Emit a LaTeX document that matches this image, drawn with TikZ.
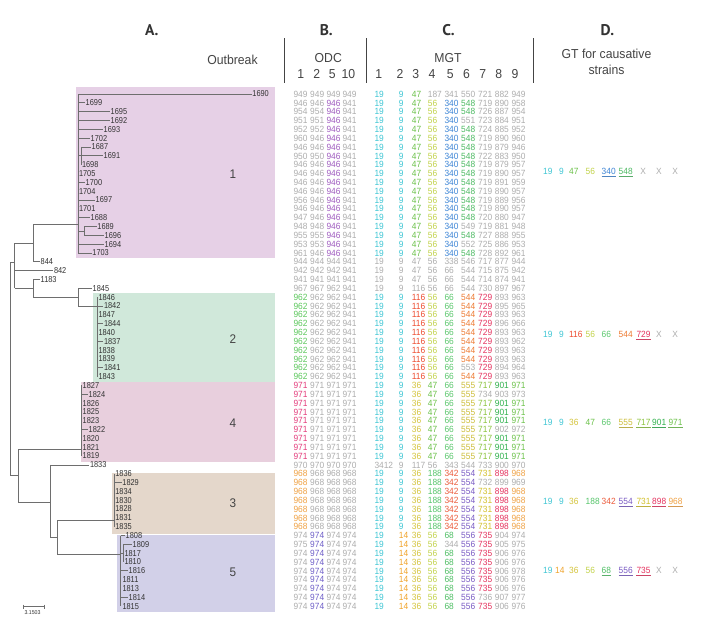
\documentclass[tikz,border=0pt]{standalone}
\usepackage{fontspec}
\setmainfont{Liberation Sans}
\newfontfamily\datfont[FakeStretch=0.93]{Liberation Sans}
\newfontfamily\labfont[FakeStretch=0.86]{Liberation Sans}
\newfontfamily\hdrfont[FakeStretch=0.94]{Liberation Sans}
\newfontfamily\letfont{PT Sans}
\definecolor{gy}{HTML}{ADADAD}
\definecolor{cy}{HTML}{3EC6D4}
\definecolor{pu}{HTML}{A05CC0}
\definecolor{lg}{HTML}{6CC24A}
\definecolor{yg}{HTML}{C2D34A}
\definecolor{bl}{HTML}{3D85D6}
\definecolor{g5}{HTML}{4DBA63}
\definecolor{og}{HTML}{5CC85C}
\definecolor{rd}{HTML}{EE4B2E}
\definecolor{gr}{HTML}{5CC86E}
\definecolor{or}{HTML}{EE7B33}
\definecolor{pk}{HTML}{E5325E}
\definecolor{mg}{HTML}{E43C7C}
\definecolor{ye}{HTML}{D4C43A}
\definecolor{yl}{HTML}{CDBE3A}
\definecolor{gl}{HTML}{8BC43E}
\definecolor{dg}{HTML}{2FB14C}
\definecolor{or2}{HTML}{F0A244}
\definecolor{g188}{HTML}{55C56A}
\definecolor{rd2}{HTML}{EC5B3B}
\definecolor{pu2}{HTML}{7A5BC4}
\definecolor{y731}{HTML}{D3C02A}
\definecolor{pv}{HTML}{6F5FC8}
\definecolor{or14}{HTML}{F0A32A}
\definecolor{g68}{HTML}{4FBF65}
\definecolor{treec}{HTML}{6E6E6E}
\definecolor{labc}{HTML}{333333}
\definecolor{hdrc}{HTML}{444444}
\definecolor{letc}{HTML}{333333}
\definecolor{bxa}{HTML}{E6D0E6}
\definecolor{bxb}{HTML}{D0E8DA}
\definecolor{bxd}{HTML}{E8CFDD}
\definecolor{bxc}{HTML}{E4D7CB}
\definecolor{bxe}{HTML}{D2D0E8}
\newcommand\RY[1]{94+(#1-1)*8.83}
\newcommand\drow[2]{%
  \edef\rowlist{#2}%
  \foreach \clr/\txt [count=\k] in \rowlist {%
    \pgfmathsetmacro\xx{{293.3,310,326.3,342.3,374.3,398.7,411.7,427.7,444.3,461,478,494.7,511.3}[\k-1]}%
    \pgfmathsetmacro\yy{\RY{#1}+3.2}%
    \node[dat,text=\clr] (d#1-\k) at (\xx,\yy) {\txt};
  }}
\newcommand\dDrow[4]{% name, y, x-list, entries
  \edef\rowlist{#4}%
  \foreach \clr/\txt/\und [count=\k] in \rowlist {%
    \pgfmathsetmacro\xx{{#3}[\k-1]}%
    \pgfmathsetmacro\yy{#2+3.2}%
    \ifnum\und=2\relax
      \pgfmathsetmacro\xc{\xx+6.8}%
      \node[dat,anchor=base,text=\clr] (#1-\k) at (\xc,\yy) {\txt};
    \else
      \node[dat,text=\clr] (#1-\k) at (\xx,\yy) {\txt};
      \ifnum\und=1\relax
        \draw[draw=\clr!75!gray,line width=0.55pt] ([yshift=-1.6pt]#1-\k.base west) -- ([yshift=-1.6pt]#1-\k.base east);
      \fi
    \fi
  }}
\newcommand\leaf[5]{%
  \pgfmathsetmacro\yy{\RY{#2}}%
  \coordinate (s#1) at (#3,\yy);
  \coordinate (e#1) at (#4,\yy);
  \draw[tree] (s#1) -- (e#1);
  \node[lab] (l#1) at (e#1) {#5};}
\newcommand\zleaf[4]{%
  \pgfmathsetmacro\yy{\RY{#2}}%
  \pgfmathsetmacro\xc{#3+0.3}%
  \node[lab] (l#1) at (\xc,\yy) {#4};}
\newcommand\vseg[4]{% name, x, row1, row2
  \pgfmathsetmacro\ya{\RY{#3}}\pgfmathsetmacro\yb{\RY{#4}}%
  \coordinate (#1t) at (#2,\ya); \coordinate (#1b) at (#2,\yb);
  \draw[tree] (#1t) -- (#1b);}
\newcommand\hseg[4]{% name, x1, x2, row
  \pgfmathsetmacro\ya{\RY{#4}}%
  \coordinate (#1l) at (#2,\ya); \coordinate (#1r) at (#3,\ya);
  \draw[tree] (#1l) -- (#1r);}
\def\DX{543,559,569,585.5,601.5,618.5,636.3,652,668.3}
\def\DXe{543,555,569,585.5,601.5,618.5,636.3,652,668.3}
\begin{document}
\begin{tikzpicture}[x=1pt,y=-1pt,
  tree/.style={draw=treec,line width=0.7pt},
  dat/.style={anchor=base west,inner sep=0pt,font={\datfont\fontsize{9}{10}\selectfont}},
  lab/.style={anchor=west,inner sep=0.5pt,text=labc,font={\labfont\fontsize{8.6}{9}\selectfont}},
  hdr/.style={inner sep=0pt,text=hdrc,font={\hdrfont\fontsize{13}{14}\selectfont}},
  lettr/.style={inner sep=0pt,text=letc,font={\letfont\bfseries\fontsize{15.5}{16}\selectfont}},
  onum/.style={inner sep=0pt,text=hdrc,font={\hdrfont\fontsize{12.5}{13}\selectfont}},
  divl/.style={draw=hdrc,line width=1pt}]
\fill[white] (0,0) rectangle (725,627);
\useasboundingbox (0,0) rectangle (725,627);
% outbreak boxes
\fill[bxa] (76,86.5) rectangle (275,257.5);
\fill[bxb] (93,293.3) rectangle (275,381.6);
\fill[bxd] (81,382.4) rectangle (275,462);
\fill[bxc] (112,472.5) rectangle (275,534);
\fill[bxe] (117,534.6) rectangle (275,611.5);
% headers
\node[lettr] (hA) at (151.7,30.5) {A.};
\node[lettr] (hB) at (326.3,30.5) {B.};
\node[lettr] (hC) at (448.5,30.5) {C.};
\node[lettr] (hD) at (607.4,30.5) {D.};
\node[hdr] (hOut) at (232.5,60.3) {Outbreak};
\node[hdr] (hODC) at (328.3,57.7) {ODC};
\node[hdr] (hMGT) at (448,57.7) {MGT};
\node[hdr] (hGT1) at (606.5,54.3) {GT for causative};
\node[hdr] (hGT2) at (606.5,70) {strains};
\foreach \nm/\xp/\tx in {o1/300.7/1,o2/316.7/2,o5/332.3/5,o10/348.3/10}{
  \node[hdr] (h\nm) at (\xp,74.2) {\tx};}
\foreach \nm/\xp [count=\i] in {m1/378.8,m2/400,m3/415.7,m4/431.9,m5/450.3,m6/466.5,m7/482.7,m8/498.8,m9/515}{
  \node[hdr] (h\nm) at (\xp,74.2) {\i};}
\coordinate (v1t) at (284.5,38.3); \coordinate (v1b) at (284.5,83.3);
\coordinate (v2t) at (366,38.3); \coordinate (v2b) at (366,83.3);
\coordinate (v3t) at (533.5,38.3); \coordinate (v3b) at (533.5,83.3);
\draw[divl] (v1t) -- (v1b);
\draw[divl] (v2t) -- (v2b);
\draw[divl] (v3t) -- (v3b);
% outbreak numbers
\node[onum] (n1) at (233,174) {1};
\node[onum] (n2) at (233,339) {2};
\node[onum] (n4) at (233,423) {4};
\node[onum] (n3) at (233,503) {3};
\node[onum] (n5) at (233,572) {5};
% ---------------- tree ----------------
\vseg{c1}{78}{1}{19}
\vseg{sa}{81}{7}{9}
\hseg{saj}{78}{81}{8}
\vseg{sb}{84}{16}{17}
\hseg{sbj}{78}{84}{16.5}
\leaf{1690}{1}{78}{251.7}{1690}
\leaf{1699}{2}{78}{85}{1699}
\leaf{1695}{3}{78}{110}{1695}
\leaf{1692}{4}{78}{110}{1692}
\leaf{1693}{5}{78}{103}{1693}
\leaf{1702}{6}{78}{90}{1702}
\leaf{1687}{7}{81}{91}{1687}
\leaf{1691}{8}{81}{103}{1691}
\zleaf{1698}{9}{81}{1698}
\zleaf{1705}{10}{78}{1705}
\leaf{1700}{11}{78}{85}{1700}
\zleaf{1704}{12}{78}{1704}
\leaf{1697}{13}{78}{95}{1697}
\zleaf{1701}{14}{78}{1701}
\leaf{1688}{15}{78}{90}{1688}
\leaf{1689}{16}{84}{96.7}{1689}
\leaf{1696}{17}{84}{104}{1696}
\leaf{1694}{18}{78}{104}{1694}
\leaf{1703}{19}{78}{91.7}{1703}
% upper part
\coordinate (na1) at (33.3,224); \coordinate (na2) at (78,224);
\draw[tree] (na1) -- (na2);
\coordinate (na3) at (33.3,261.77);
\draw[tree] (na1) -- (na3);
\leaf{844}{20}{33.3}{40}{844}
\coordinate (nb0) at (14.5,243.3); \coordinate (nb1) at (33.3,243.3);
\draw[tree] (nb0) -- (nb1);
\coordinate (nb2) at (14.5,288.26);
\draw[tree] (nb0) -- (nb2);
\leaf{842}{21}{14.5}{53.3}{842}
\coordinate (nc0) at (33.3,288.26);
\draw[tree] (nb2) -- (nc0);
\coordinate (nc1) at (33.3,279.43); \coordinate (nc2) at (33.3,297.7);
\draw[tree] (nc1) -- (nc2);
\leaf{1183}{22}{33.3}{40}{1183}
\coordinate (nd0) at (78.7,297.7);
\draw[tree] (nc2) -- (nd0);
\coordinate (nd1) at (78.7,288.26); \coordinate (nd2) at (78.7,306.7);
\draw[tree] (nd1) -- (nd2);
\leaf{1845}{23}{78.7}{92}{1845}
\coordinate (c2j) at (97.5,306.7);
\draw[tree] (nd2) -- (c2j);
\vseg{c2}{97.5}{24}{33}
\zleaf{1846}{24}{97.5}{1846}
\leaf{1842}{25}{97.5}{103.3}{1842}
\zleaf{1847}{26}{97.5}{1847}
\leaf{1844}{27}{97.5}{103.3}{1844}
\zleaf{1840}{28}{97.5}{1840}
\leaf{1837}{29}{97.5}{103.3}{1837}
\zleaf{1838}{30}{97.5}{1838}
\zleaf{1839}{31}{97.5}{1839}
\leaf{1841}{32}{97.5}{103.3}{1841}
\zleaf{1843}{33}{97.5}{1843}
% root
\coordinate (r0) at (10,262); \coordinate (r1) at (10,475.3);
\draw[tree] (r0) -- (r1);
\coordinate (rb) at (14.5,262);
\draw[tree] (r0) -- (rb);
\coordinate (ne0) at (18.3,475.3);
\draw[tree] (r1) -- (ne0);
\coordinate (ne1) at (18.3,449.3); \coordinate (ne2) at (18.3,502);
\draw[tree] (ne1) -- (ne2);
\coordinate (c4j) at (81.7,449.3);
\draw[tree] (ne1) -- (c4j);
\vseg{c4}{81.7}{34}{42}
\zleaf{1827}{34}{81.7}{1827}
\leaf{1824}{35}{81.7}{88}{1824}
\zleaf{1826}{36}{81.7}{1826}
\zleaf{1825}{37}{81.7}{1825}
\zleaf{1823}{38}{81.7}{1823}
\leaf{1822}{39}{81.7}{88}{1822}
\zleaf{1820}{40}{81.7}{1820}
\zleaf{1821}{41}{81.7}{1821}
\zleaf{1819}{42}{81.7}{1819}
\coordinate (nf0) at (50,502);
\draw[tree] (ne2) -- (nf0);
\coordinate (nf1) at (50,464.86); \coordinate (nf2) at (50,537.3);
\draw[tree] (nf1) -- (nf2);
\leaf{1833}{43}{50}{89.3}{1833}
\coordinate (ng0) at (57.3,537.3);
\draw[tree] (nf2) -- (ng0);
\coordinate (ng1) at (57.3,520); \coordinate (ng2) at (57.3,554);
\draw[tree] (ng1) -- (ng2);
\coordinate (c3j) at (114.3,520);
\draw[tree] (ng1) -- (c3j);
\vseg{c3}{114.3}{44}{50}
\zleaf{1836}{44}{114.3}{1836}
\leaf{1829}{45}{114.3}{121.7}{1829}
\zleaf{1834}{46}{114.3}{1834}
\zleaf{1830}{47}{114.3}{1830}
\zleaf{1828}{48}{114.3}{1828}
\zleaf{1831}{49}{114.3}{1831}
\zleaf{1835}{50}{114.3}{1835}
\coordinate (c5j) at (120.5,554);
\draw[tree] (ng2) -- (c5j);
\vseg{c5}{120.5}{51}{59}
\vseg{s5}{123.5}{52}{54}
\hseg{s5j}{120.5}{123.5}{53}
\leaf{1808}{51}{120.5}{125}{1808}
\leaf{1809}{52}{123.5}{132}{1809}
\zleaf{1817}{53}{123.5}{1817}
\zleaf{1810}{54}{123.5}{1810}
\leaf{1816}{55}{120.5}{128}{1816}
\zleaf{1811}{56}{121.5}{1811}
\zleaf{1813}{57}{121.5}{1813}
\leaf{1814}{58}{120.5}{128}{1814}
\zleaf{1815}{59}{121.5}{1815}
% scale bar
\coordinate (sb1) at (23.3,606.7); \coordinate (sb2) at (44,606.7);
\draw[treec,line width=0.6pt] (sb1) -- (sb2);
\draw[treec,line width=0.6pt] ([yshift=2pt]sb1) -- ([yshift=-2pt]sb1);
\draw[treec,line width=0.6pt] ([yshift=2pt]sb2) -- ([yshift=-2pt]sb2);
\node[inner sep=0pt,text=labc,font={\datfont\fontsize{5.6}{6}\selectfont}] (sbt) at (32.5,612.3) {3.1503};
% ---------------- data ----------------
\def\Oa{cy/19,cy/9,lg/47,yg/56,bl/340}
\drow{1}{gy/949,gy/949,gy/949,gy/949,cy/19,cy/9,lg/47,gy/187,gy/341,gy/550,gy/721,gy/882,gy/949}
\drow{2}{gy/946,gy/946,pu/946,gy/941,\Oa,g5/548,gy/719,gy/890,gy/958}
\drow{3}{gy/954,gy/954,pu/946,gy/941,\Oa,g5/548,gy/726,gy/887,gy/954}
\drow{4}{gy/951,gy/951,pu/946,gy/941,\Oa,gy/551,gy/723,gy/884,gy/951}
\drow{5}{gy/952,gy/952,pu/946,gy/941,\Oa,g5/548,gy/724,gy/885,gy/952}
\drow{6}{gy/960,gy/946,pu/946,gy/941,\Oa,g5/548,gy/719,gy/890,gy/960}
\drow{7}{gy/946,gy/946,pu/946,gy/941,\Oa,g5/548,gy/719,gy/879,gy/946}
\drow{8}{gy/950,gy/950,pu/946,gy/941,\Oa,g5/548,gy/722,gy/883,gy/950}
\drow{9}{gy/946,gy/946,pu/946,gy/941,\Oa,g5/548,gy/719,gy/879,gy/957}
\drow{10}{gy/946,gy/946,pu/946,gy/941,\Oa,g5/548,gy/719,gy/890,gy/957}
\drow{11}{gy/946,gy/946,pu/946,gy/941,\Oa,g5/548,gy/719,gy/891,gy/959}
\drow{12}{gy/946,gy/946,pu/946,gy/941,\Oa,g5/548,gy/719,gy/890,gy/957}
\drow{13}{gy/956,gy/946,pu/946,gy/941,\Oa,g5/548,gy/719,gy/889,gy/956}
\drow{14}{gy/946,gy/946,pu/946,gy/941,\Oa,g5/548,gy/719,gy/890,gy/957}
\drow{15}{gy/947,gy/946,pu/946,gy/941,\Oa,g5/548,gy/720,gy/880,gy/947}
\drow{16}{gy/948,gy/948,pu/946,gy/941,\Oa,gy/549,gy/719,gy/881,gy/948}
\drow{17}{gy/955,gy/955,pu/946,gy/941,\Oa,g5/548,gy/727,gy/888,gy/955}
\drow{18}{gy/953,gy/953,pu/946,gy/941,\Oa,gy/552,gy/725,gy/886,gy/953}
\drow{19}{gy/961,gy/946,pu/946,gy/941,\Oa,g5/548,gy/728,gy/892,gy/961}
\drow{20}{gy/944,gy/944,gy/944,gy/941,gy/19,gy/9,gy/47,gy/56,gy/338,gy/546,gy/717,gy/877,gy/944}
\drow{21}{gy/942,gy/942,gy/942,gy/941,gy/19,gy/9,gy/47,gy/56,gy/66,gy/544,gy/715,gy/875,gy/942}
\drow{22}{gy/941,gy/941,gy/941,gy/941,gy/19,gy/9,gy/47,gy/56,gy/66,gy/544,gy/714,gy/874,gy/941}
\drow{23}{gy/967,gy/967,gy/962,gy/941,gy/19,gy/9,gy/116,gy/56,gy/66,gy/544,gy/730,gy/897,gy/967}
\def\Ob{og/962,gy/962,gy/962,gy/941,cy/19,cy/9,rd/116,yg/56,gr/66}
\drow{24}{\Ob,or/544,pk/729,gy/893,gy/963}
\drow{25}{\Ob,or/544,pk/729,gy/895,gy/965}
\drow{26}{\Ob,or/544,pk/729,gy/893,gy/963}
\drow{27}{\Ob,or/544,pk/729,gy/896,gy/966}
\drow{28}{\Ob,or/544,pk/729,gy/893,gy/963}
\drow{29}{\Ob,or/544,pk/729,gy/893,gy/962}
\drow{30}{\Ob,or/544,pk/729,gy/893,gy/963}
\drow{31}{\Ob,or/544,pk/729,gy/893,gy/963}
\drow{32}{\Ob,gy/553,pk/729,gy/894,gy/964}
\drow{33}{\Ob,or/544,pk/729,gy/893,gy/963}
\def\Oc{mg/971,gy/971,gy/971,gy/971,cy/19,cy/9,ye/36,lg/47,gr/66,yl/555}
\drow{34}{\Oc,gl/717,dg/901,lg/971}
\drow{35}{\Oc,gy/734,gy/903,gy/973}
\drow{36}{\Oc,gl/717,dg/901,lg/971}
\drow{37}{\Oc,gl/717,dg/901,lg/971}
\drow{38}{\Oc,gl/717,dg/901,lg/971}
\drow{39}{\Oc,gl/717,gy/902,gy/972}
\drow{40}{\Oc,gl/717,dg/901,lg/971}
\drow{41}{\Oc,gl/717,dg/901,lg/971}
\drow{42}{\Oc,gl/717,dg/901,lg/971}
\drow{43}{gy/970,gy/970,gy/970,gy/970,gy/3412,gy/9,gy/117,gy/56,gy/343,gy/544,gy/733,gy/900,gy/970}
\def\Od{or2/968,gy/968,gy/968,gy/968,cy/19,cy/9,ye/36,g188/188,rd2/342,pu2/554}
\drow{44}{\Od,y731/731,pk/898,or2/968}
\drow{45}{\Od,gy/732,gy/899,gy/969}
\drow{46}{\Od,y731/731,pk/898,or2/968}
\drow{47}{\Od,y731/731,pk/898,or2/968}
\drow{48}{\Od,y731/731,pk/898,or2/968}
\drow{49}{\Od,y731/731,pk/898,or2/968}
\drow{50}{\Od,y731/731,pk/898,or2/968}
\def\Oe{cy/19,or14/14,ye/36,yg/56}
\drow{51}{gy/974,pv/974,gy/974,gy/974,\Oe,g68/68,pu2/556,pk/735,gy/904,gy/974}
\drow{52}{gy/975,pv/974,gy/974,gy/974,\Oe,gy/344,pu2/556,pk/735,gy/905,gy/975}
\drow{53}{gy/974,pv/974,gy/974,gy/974,\Oe,g68/68,pu2/556,pk/735,gy/906,gy/976}
\drow{54}{gy/974,pv/974,gy/974,gy/974,\Oe,g68/68,pu2/556,pk/735,gy/906,gy/976}
\drow{55}{gy/974,pv/974,gy/974,gy/974,\Oe,g68/68,pu2/556,pk/735,gy/906,gy/978}
\drow{56}{gy/974,pv/974,gy/974,gy/974,\Oe,g68/68,pu2/556,pk/735,gy/906,gy/976}
\drow{57}{gy/974,pv/974,gy/974,gy/974,\Oe,g68/68,pu2/556,pk/735,gy/906,gy/976}
\drow{58}{gy/974,pv/974,gy/974,gy/974,\Oe,g68/68,pu2/556,gy/736,gy/907,gy/977}
\drow{59}{gy/974,pv/974,gy/974,gy/974,\Oe,g68/68,pu2/556,pk/735,gy/906,gy/976}
% ---------------- column D ----------------
\dDrow{Da}{171}{\DX}{cy/19/0,cy/9/0,lg/47/0,yg/56/0,bl/340/1,g5/548/1,gy/X/2,gy/X/2,gy/X/2}
\dDrow{Db}{334.3}{\DX}{cy/19/0,cy/9/0,rd/116/0,yg/56/0,gr/66/0,or/544/0,pk/729/1,gy/X/2,gy/X/2}
\dDrow{Dc}{422.7}{\DX}{cy/19/0,cy/9/0,ye/36/0,lg/47/0,gr/66/0,yl/555/1,gl/717/1,dg/901/1,lg/971/1}
\dDrow{Dd}{501.7}{\DX}{cy/19/0,cy/9/0,ye/36/0,g188/188/0,rd2/342/0,pu2/554/1,y731/731/1,pk/898/1,or2/968/1}
\dDrow{De}{570}{\DXe}{cy/19/0,or14/14/0,ye/36/0,yg/56/0,g68/68/1,pu2/556/1,pk/735/1,gy/X/2,gy/X/2}
\end{tikzpicture}
\end{document}
